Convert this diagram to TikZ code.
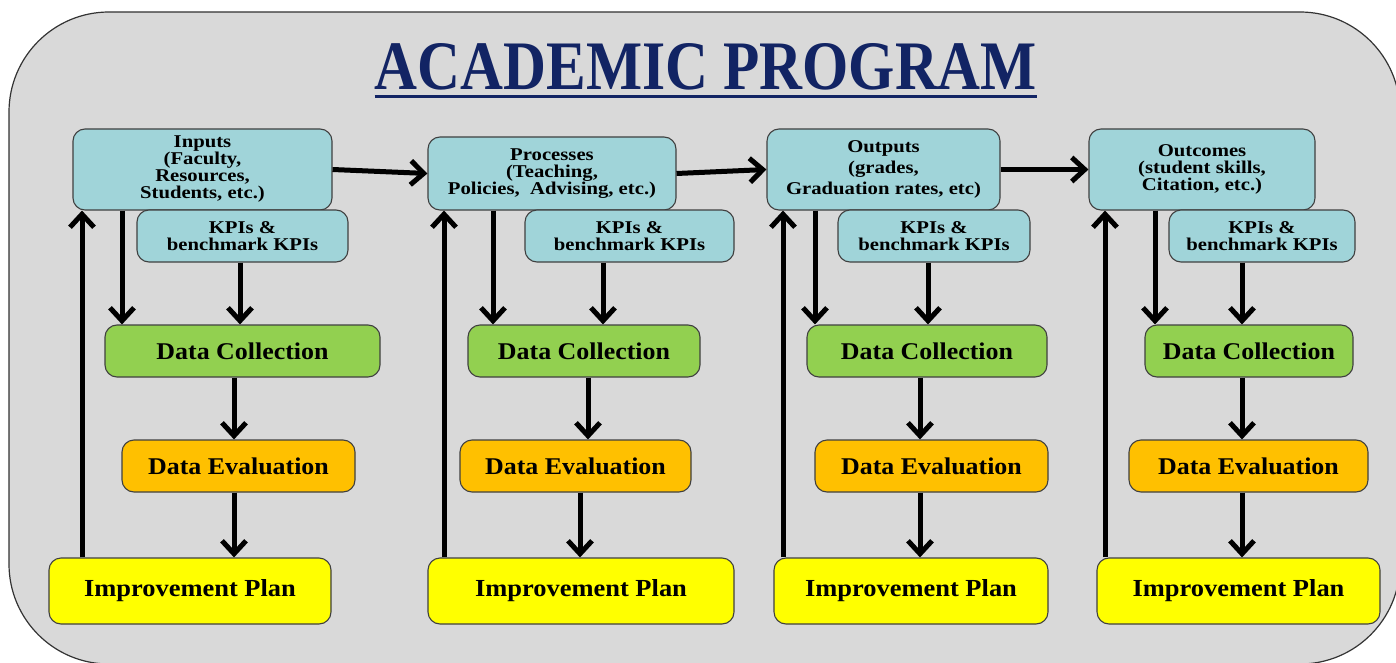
\documentclass[tikz,border=0pt]{standalone}
\usepackage{fontspec}
\setmainfont{Liberation Serif}[FakeStretch=1.08]
\newfontfamily\widefont{Liberation Serif}[FakeStretch=1.15]
\usepackage{graphicx}
\usetikzlibrary{arrows.meta}
\definecolor{bgray}{RGB}{217,217,217}
\definecolor{cyanbox}{RGB}{160,212,217}
\definecolor{greenbox}{RGB}{146,208,80}
\definecolor{orangebox}{RGB}{255,192,0}
\definecolor{yellowbox}{RGB}{255,255,0}
\definecolor{navy}{RGB}{18,36,100}
\begin{document}
\begin{tikzpicture}[x=1pt,y=-1pt,
  box/.style={draw=black!75, line width=1.1pt, rounded corners=12pt, inner sep=0pt, align=center, font=\bfseries},
  topbox/.style={box, fill=cyanbox, font=\widefont\bfseries\fontsize{18}{17}\selectfont},
  kpibox/.style={box, fill=cyanbox, font=\widefont\bfseries\fontsize{18}{17}\selectfont},
  dcbox/.style={box, fill=greenbox, minimum height=52pt, font=\bfseries\fontsize{24}{26}\selectfont},
  debox/.style={box, fill=orangebox, minimum height=52pt, font=\bfseries\fontsize{24}{26}\selectfont},
  ipbox/.style={box, fill=yellowbox, minimum height=66pt, font=\bfseries\fontsize{24.5}{26}\selectfont},
  arr/.style={line width=5pt, -{Straight Barb[length=13pt,width=24pt]}}
]
\useasboundingbox (0,0) rectangle (1396,663);
\begin{scope}
\clip (0,0) rectangle (1396,663);
\draw[fill=bgray, draw=black!80, line width=1.2pt, rounded corners=100pt] (9,12) rectangle (1400,664);
\end{scope}

% title
\node[inner sep=0pt, anchor=base, text=navy] (title) at (706,90)
  {\resizebox{662pt}{46pt}{\bfseries ACADEMIC PROGRAM}};
\draw[navy, line width=3pt] ([yshift=-7pt]title.base west) -- ([yshift=-7pt]title.base east);

% column 1
\node[topbox, minimum width=259pt, minimum height=81pt] (inp) at (202.5,169.5)
  {Inputs\\(Faculty,\\Resources,\\Students, etc.)};
\node[kpibox, minimum width=211pt, minimum height=52pt] (kpi1) at (242.5,236)
  {KPIs \&\\benchmark KPIs};
\node[dcbox, minimum width=275pt] (dc1) at (242.5,351) {Data Collection};
\node[debox, minimum width=233pt] (de1) at (238.5,466) {Data Evaluation};
\node[ipbox, minimum width=282pt] (ip1) at (190,591) {Improvement Plan};

% column 2
\node[topbox, minimum width=248pt, minimum height=73pt] (proc) at (552,173.5)
  {Processes\\(Teaching,\\Policies,\ \ Advising, etc.)};
\node[kpibox, minimum width=209pt, minimum height=52pt] (kpi2) at (629.5,236)
  {KPIs \&\\benchmark KPIs};
\node[dcbox, minimum width=232pt] (dc2) at (584,351) {Data Collection};
\node[debox, minimum width=231pt] (de2) at (575.5,466) {Data Evaluation};
\node[ipbox, minimum width=306pt] (ip2) at (581,591) {Improvement Plan};

% column 3
\node[topbox, minimum width=233pt, minimum height=81pt, font=\widefont\bfseries\fontsize{18}{21}\selectfont] (outp) at (883.5,169.5)
  {Outputs\\(grades,\\Graduation rates, etc)};
\node[kpibox, minimum width=192pt, minimum height=52pt] (kpi3) at (934,236)
  {KPIs \&\\benchmark KPIs};
\node[dcbox, minimum width=240pt] (dc3) at (927,351) {Data Collection};
\node[debox, minimum width=233pt] (de3) at (931.5,466) {Data Evaluation};
\node[ipbox, minimum width=274pt] (ip3) at (911,591) {Improvement Plan};

% column 4
\node[topbox, minimum width=226pt, minimum height=81pt] (outc) at (1202,169.5)
  {Outcomes\\(student skills,\\Citation, etc.)};
\node[kpibox, minimum width=186pt, minimum height=52pt] (kpi4) at (1262,236)
  {KPIs \&\\benchmark KPIs};
\node[dcbox, minimum width=208pt] (dc4) at (1249,351) {Data Collection};
\node[debox, minimum width=239pt] (de4) at (1248.5,466) {Data Evaluation};
\node[ipbox, minimum width=283pt] (ip4) at (1238.5,591) {Improvement Plan};

% horizontal arrows
\draw[arr] (inp.east) -- (proc.west);
\draw[arr] (proc.east) -- (outp.west);
\draw[arr] (outp.east) -- (outc.west);

% column 1 arrows
\draw[arr] (inp.south -| 122,0) -- (dc1.north -| 122,0);
\draw[arr] (kpi1.south -| 240,0) -- (dc1.north -| 240,0);
\draw[arr] (dc1.south -| 234,0) -- (de1.north -| 234,0);
\draw[arr] (de1.south -| 234,0) -- (ip1.north -| 234,0);
\draw[arr] (ip1.north -| 82,0) -- (inp.south -| 82,0);

% column 2 arrows
\draw[arr] (proc.south -| 493,0) -- (dc2.north -| 493,0);
\draw[arr] (kpi2.south -| 603,0) -- (dc2.north -| 603,0);
\draw[arr] (dc2.south -| 588,0) -- (de2.north -| 588,0);
\draw[arr] (de2.south -| 580,0) -- (ip2.north -| 580,0);
\draw[arr] (ip2.north -| 444,0) -- (proc.south -| 444,0);

% column 3 arrows
\draw[arr] (outp.south -| 815,0) -- (dc3.north -| 815,0);
\draw[arr] (kpi3.south -| 928,0) -- (dc3.north -| 928,0);
\draw[arr] (dc3.south -| 920,0) -- (de3.north -| 920,0);
\draw[arr] (de3.south -| 920,0) -- (ip3.north -| 920,0);
\draw[arr] (ip3.north -| 783,0) -- (outp.south -| 783,0);

% column 4 arrows
\draw[arr] (outc.south -| 1155,0) -- (dc4.north -| 1155,0);
\draw[arr] (kpi4.south -| 1242,0) -- (dc4.north -| 1242,0);
\draw[arr] (dc4.south -| 1242,0) -- (de4.north -| 1242,0);
\draw[arr] (de4.south -| 1242,0) -- (ip4.north -| 1242,0);
\draw[arr] (ip4.north -| 1105,0) -- (outc.south -| 1105,0);
\end{tikzpicture}
\end{document}
